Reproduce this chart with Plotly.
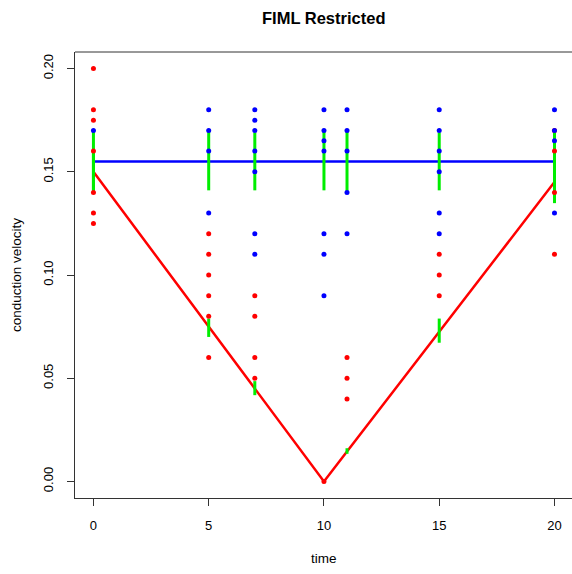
import plotly.graph_objects as go

# ---- data ----
times = [0, 5, 7, 10, 11, 15, 20]

blue_x = [0,
          5, 5, 5, 5,
          7, 7, 7, 7, 7, 7, 7,
          10, 10, 10, 10, 10, 10, 10,
          11, 11, 11, 11, 11,
          15, 15, 15, 15, 15, 15,
          20, 20, 20, 20]
blue_y = [0.17,
          0.18, 0.17, 0.16, 0.13,
          0.18, 0.175, 0.17, 0.16, 0.15, 0.12, 0.11,
          0.18, 0.17, 0.165, 0.16, 0.12, 0.11, 0.09,
          0.18, 0.17, 0.16, 0.14, 0.12,
          0.18, 0.17, 0.16, 0.15, 0.13, 0.12,
          0.18, 0.17, 0.165, 0.13]

red_x = [0, 0, 0, 0, 0, 0, 0,
         5, 5, 5, 5, 5, 5,
         7, 7, 7, 7,
         10,
         11, 11, 11,
         15, 15, 15,
         20, 20, 20, 20]
red_y = [0.20, 0.18, 0.175, 0.16, 0.14, 0.13, 0.125,
         0.12, 0.11, 0.10, 0.09, 0.08, 0.06,
         0.09, 0.08, 0.06, 0.05,
         0.0,
         0.06, 0.05, 0.04,
         0.11, 0.10, 0.09,
         0.17, 0.16, 0.14, 0.11]

blue_fit = [0.155, 0.155, 0.155, 0.155, 0.155, 0.155, 0.155]
red_fit = [0.15, 0.075, 0.045, 0.0, 0.0145, 0.0725, 0.145]

blue_lo = [0.1405, 0.1410, 0.1410, 0.1410, 0.1400, 0.1410, 0.1405]
blue_hi = [0.1700, 0.1700, 0.1690, 0.1700, 0.1700, 0.1690, 0.1700]
red_lo = [0.141, 0.0700, 0.0418, 0.0, 0.0134, 0.0672, 0.1348]
red_hi = [0.159, 0.0789, 0.0486, 0.0, 0.0161, 0.0789, 0.1550]

title_text = "FIML Restricted"
x_label = "time"
y_label = "conduction velocity"
x_ticks = [0, 5, 10, 15, 20]
y_ticks = [0.00, 0.05, 0.10, 0.15, 0.20]
y_ticklabels = ["0.00", "0.05", "0.10", "0.15", "0.20"]

# ---- figure ----
fig = go.Figure()

fig.add_trace(go.Scatter(x=times, y=blue_fit, mode="lines",
                         line=dict(color="#0000FF", width=2.5), hoverinfo="skip"))
fig.add_trace(go.Scatter(x=times, y=red_fit, mode="lines",
                         line=dict(color="#FF0000", width=2.5), hoverinfo="skip"))

gx, gy = [], []
for t, lo, hi in zip(times, blue_lo, blue_hi):
    gx += [t, t, None]
    gy += [lo, hi, None]
for t, lo, hi in zip(times, red_lo, red_hi):
    if hi > lo:
        gx += [t, t, None]
        gy += [lo, hi, None]
fig.add_trace(go.Scatter(x=gx, y=gy, mode="lines",
                         line=dict(color="#00EE00", width=3), hoverinfo="skip"))

fig.add_trace(go.Scatter(x=red_x, y=red_y, mode="markers",
                         marker=dict(color="#FF0000", size=5), hoverinfo="skip"))
fig.add_trace(go.Scatter(x=blue_x, y=blue_y, mode="markers",
                         marker=dict(color="#0000FF", size=5), hoverinfo="skip"))

font = "Liberation Sans, Arial, sans-serif"

fig.update_layout(
    width=572, height=574,
    margin=dict(l=75, r=0, t=52, b=76),
    paper_bgcolor="white", plot_bgcolor="white",
    showlegend=False,
    font=dict(family=font, size=12, color="black"),
    xaxis=dict(range=[-0.8, 20.76], tickvals=x_ticks, ticks="outside", ticklen=7,
               tickcolor="#333333", showline=True, linecolor="#333333", linewidth=1,
               showgrid=False, zeroline=False, tickfont=dict(size=13),
               ticklabelstandoff=8),
    yaxis=dict(range=[-0.008, 0.208], tickvals=y_ticks, ticktext=y_ticklabels,
               ticks="outside", ticklen=7, tickcolor="#333333", tickangle=-90,
               showline=True, linecolor="#333333", linewidth=1,
               showgrid=False, zeroline=False, tickfont=dict(size=13),
               ticklabelstandoff=9),
    shapes=[dict(type="line", xref="paper", yref="paper", x0=0, x1=1, y0=1, y1=1,
                 line=dict(color="#333333", width=1))],
    annotations=[
        dict(text="<b>%s</b>" % title_text, xref="paper", yref="paper",
             x=0.5, y=1, yshift=34, showarrow=False, xanchor="center", yanchor="middle",
             font=dict(size=16.5, family=font)),
        dict(text=x_label, xref="paper", yref="paper", x=0.5, y=0, yshift=-60,
             showarrow=False, xanchor="center", yanchor="middle",
             font=dict(size=13.5, family=font)),
        dict(text=y_label, xref="paper", yref="paper", x=0, xshift=-59, y=0.5,
             showarrow=False, xanchor="center", yanchor="middle", textangle=-90,
             font=dict(size=13.5, family=font)),
    ],
)

fig.write_html("out.html", config={"displayModeBar": False},
               post_script="document.body.style.margin='0';")
